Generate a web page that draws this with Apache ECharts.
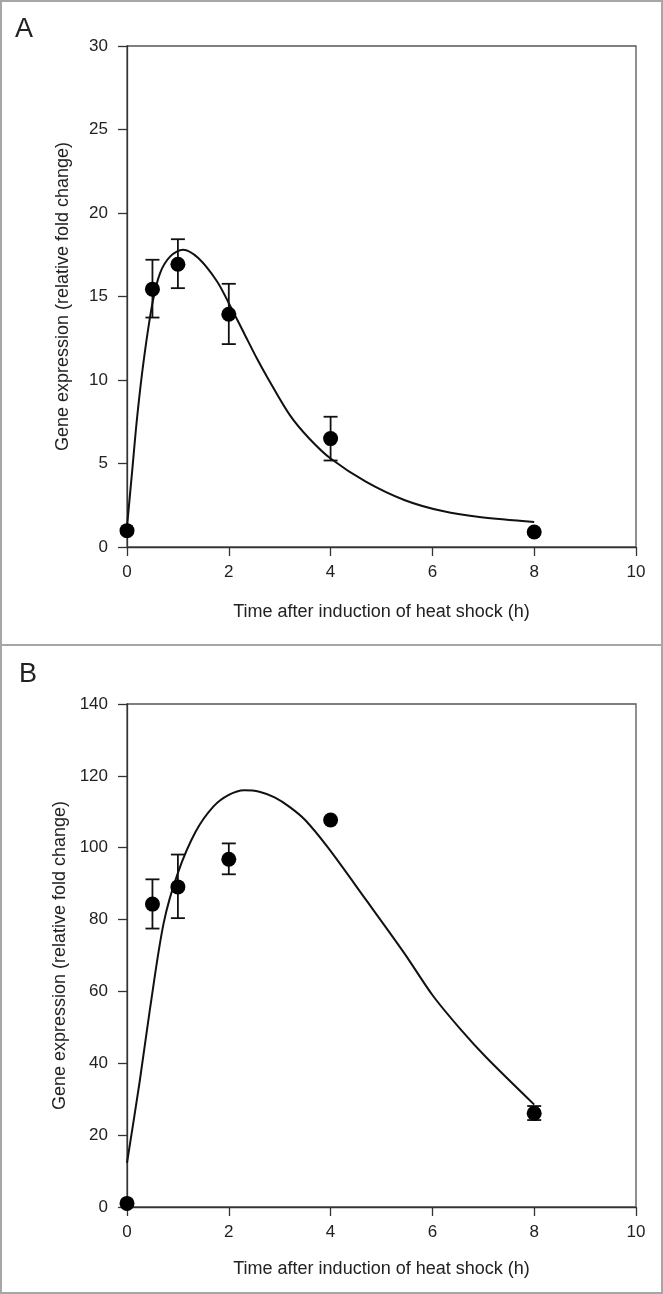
<!DOCTYPE html>
<html>
<head>
<meta charset="utf-8">
<script src="https://cdn.jsdelivr.net/npm/echarts@6/dist/echarts.min.js"></script>
<style>
html,body{margin:0;padding:0;background:#fff;}
#c{width:663px;height:1294px;}
</style>
</head>
<body>
<div id="c"></div>
<script>
// ---- Data ----
const xTicks = [0, 2, 4, 6, 8, 10];
const xTitle = 'Time after induction of heat shock (h)';
const yTitle = 'Gene expression (relative fold change)';

// Panel A
const timesA = [0, 0.5, 1, 2, 4, 8];
const meanA  = [0.98, 15.44, 16.93, 13.94, 6.49, 0.9];
const lowA   = [null, 13.74, 15.5, 12.15, 5.18, null];
const highA  = [null, 17.2, 18.43, 15.76, 7.8, null];
const fitXA  = [0, 0.1, 0.2, 0.33, 0.5, 0.65, 0.85, 1.1, 1.4, 1.77, 2.0, 2.3, 2.55, 2.75, 3.2, 3.58, 4.0, 4.7, 5.46, 6.2, 6.96, 8.0];
const fitYA  = [1.2, 4.5, 7.8, 11.2, 14.6, 16.4, 17.4, 17.8, 17.3, 15.9, 14.6, 12.8, 11.3, 10.2, 7.9, 6.5, 5.3, 3.9, 2.8, 2.15, 1.78, 1.5];

// Panel B
const timesB = [0, 0.5, 1, 2, 4, 8];
const meanB  = [1, 84.3, 89.1, 96.8, 107.7, 26.1];
const lowB   = [null, 77.5, 80.4, 92.6, null, 24.2];
const highB  = [null, 91.2, 98.1, 101.2, null, 28.1];
const fitXB  = [0, 0.25, 0.45, 0.72, 1.0, 1.35, 1.7, 2.0, 2.3, 2.6, 2.9, 3.2, 3.5, 3.95, 4.7, 5.45, 6.0, 6.55, 7.06, 8.0];
const fitYB  = [12.3, 35, 55, 79, 93, 104.5, 111.5, 114.7, 116, 115.6, 114, 111.3, 107.7, 100, 85.4, 70.6, 59.0, 49.5, 41.6, 28.5];

// ---- Build ----
const FONT = '"Liberation Sans", Arial, sans-serif';
const TXT = '#222';
const AX = '#333';

function pairs(xs, ys){ return xs.map((x,i)=>[x, ys[i]]); }
function errs(xs, lo, hi){
  const out = [];
  xs.forEach((x,i)=>{ if(lo[i]!=null && hi[i]!=null) out.push([x, lo[i], hi[i]]); });
  return out;
}
function errRender(params, api){
  const x = api.value(0);
  const p1 = api.coord([x, api.value(1)]);
  const p2 = api.coord([x, api.value(2)]);
  const hw = 7;
  const st = {stroke:'#111', lineWidth:1.8};
  return {type:'group', children:[
    {type:'line', shape:{x1:p1[0], y1:p1[1], x2:p2[0], y2:p2[1]}, style:st},
    {type:'line', shape:{x1:p1[0]-hw, y1:p1[1], x2:p1[0]+hw, y2:p1[1]}, style:st},
    {type:'line', shape:{x1:p2[0]-hw, y1:p2[1], x2:p2[0]+hw, y2:p2[1]}, style:st}
  ]};
}
function xAx(gi, gap){
  return {type:'value', gridIndex:gi, min:0, max:10, interval:2,
    name:xTitle, nameLocation:'middle', nameGap:gap,
    nameTextStyle:{fontFamily:FONT, fontSize:18, color:TXT},
    axisLine:{show:true, onZero:false, lineStyle:{color:AX, width:1.3}},
    axisTick:{show:true, inside:false, length:9, lineStyle:{color:AX, width:1.3}},
    axisLabel:{fontFamily:FONT, fontSize:17, color:TXT, margin:17},
    splitLine:{show:false}};
}
function yAx(gi, max, itv){
  return {type:'value', gridIndex:gi, min:0, max:max, interval:itv,
    name:yTitle, nameLocation:'middle', nameGap:55, nameRotate:90,
    nameTextStyle:{fontFamily:FONT, fontSize:18, color:TXT},
    axisLine:{show:true, onZero:false, lineStyle:{color:AX, width:1.3}},
    axisTick:{show:true, inside:false, length:9, lineStyle:{color:AX, width:1.3}},
    axisLabel:{fontFamily:FONT, fontSize:17, color:TXT, margin:19},
    splitLine:{show:false}};
}
function seriesFor(idx, fx, fy, t, m, lo, hi){
  return [
    {type:'line', xAxisIndex:idx, yAxisIndex:idx, data:pairs(fx, fy), smooth:0.3,
      showSymbol:false, lineStyle:{color:'#111', width:2}, z:2, silent:true},
    {type:'custom', xAxisIndex:idx, yAxisIndex:idx, data:errs(t, lo, hi),
      renderItem:errRender, z:3, silent:true},
    {type:'scatter', xAxisIndex:idx, yAxisIndex:idx, data:pairs(t, m),
      symbol:'circle', symbolSize:15, itemStyle:{color:'#000', opacity:1}, z:4, silent:true}
  ];
}

const chart = echarts.init(document.getElementById('c'), null, {renderer:'canvas'});
chart.setOption({
  animation:false,
  backgroundColor:'#fff',
  grid:[
    {left:127, top:46, width:509, height:501, show:true, borderColor:'#555', borderWidth:1.3, backgroundColor:'transparent'},
    {left:127, top:704, width:509, height:503, show:true, borderColor:'#555', borderWidth:1.3, backgroundColor:'transparent'}
  ],
  xAxis:[xAx(0, 56), xAx(1, 53)],
  yAxis:[yAx(0, 30, 5), yAx(1, 140, 20)],
  series:[].concat(
    seriesFor(0, fitXA, fitYA, timesA, meanA, lowA, highA),
    seriesFor(1, fitXB, fitYB, timesB, meanB, lowB, highB)
  ),
  graphic:[
    {type:'rect', shape:{x:1, y:1, width:661, height:644}, style:{fill:'none', stroke:'#a6a6a6', lineWidth:2}, z:10},
    {type:'rect', shape:{x:1, y:645, width:661, height:648}, style:{fill:'none', stroke:'#a6a6a6', lineWidth:2}, z:10},
    {type:'text', x:24, y:30, style:{text:'A', font:'27px '+FONT, fill:TXT, textAlign:'center', textVerticalAlign:'middle'}, z:10},
    {type:'text', x:28, y:675, style:{text:'B', font:'27px '+FONT, fill:TXT, textAlign:'center', textVerticalAlign:'middle'}, z:10}
  ]
});
</script>
</body>
</html>
